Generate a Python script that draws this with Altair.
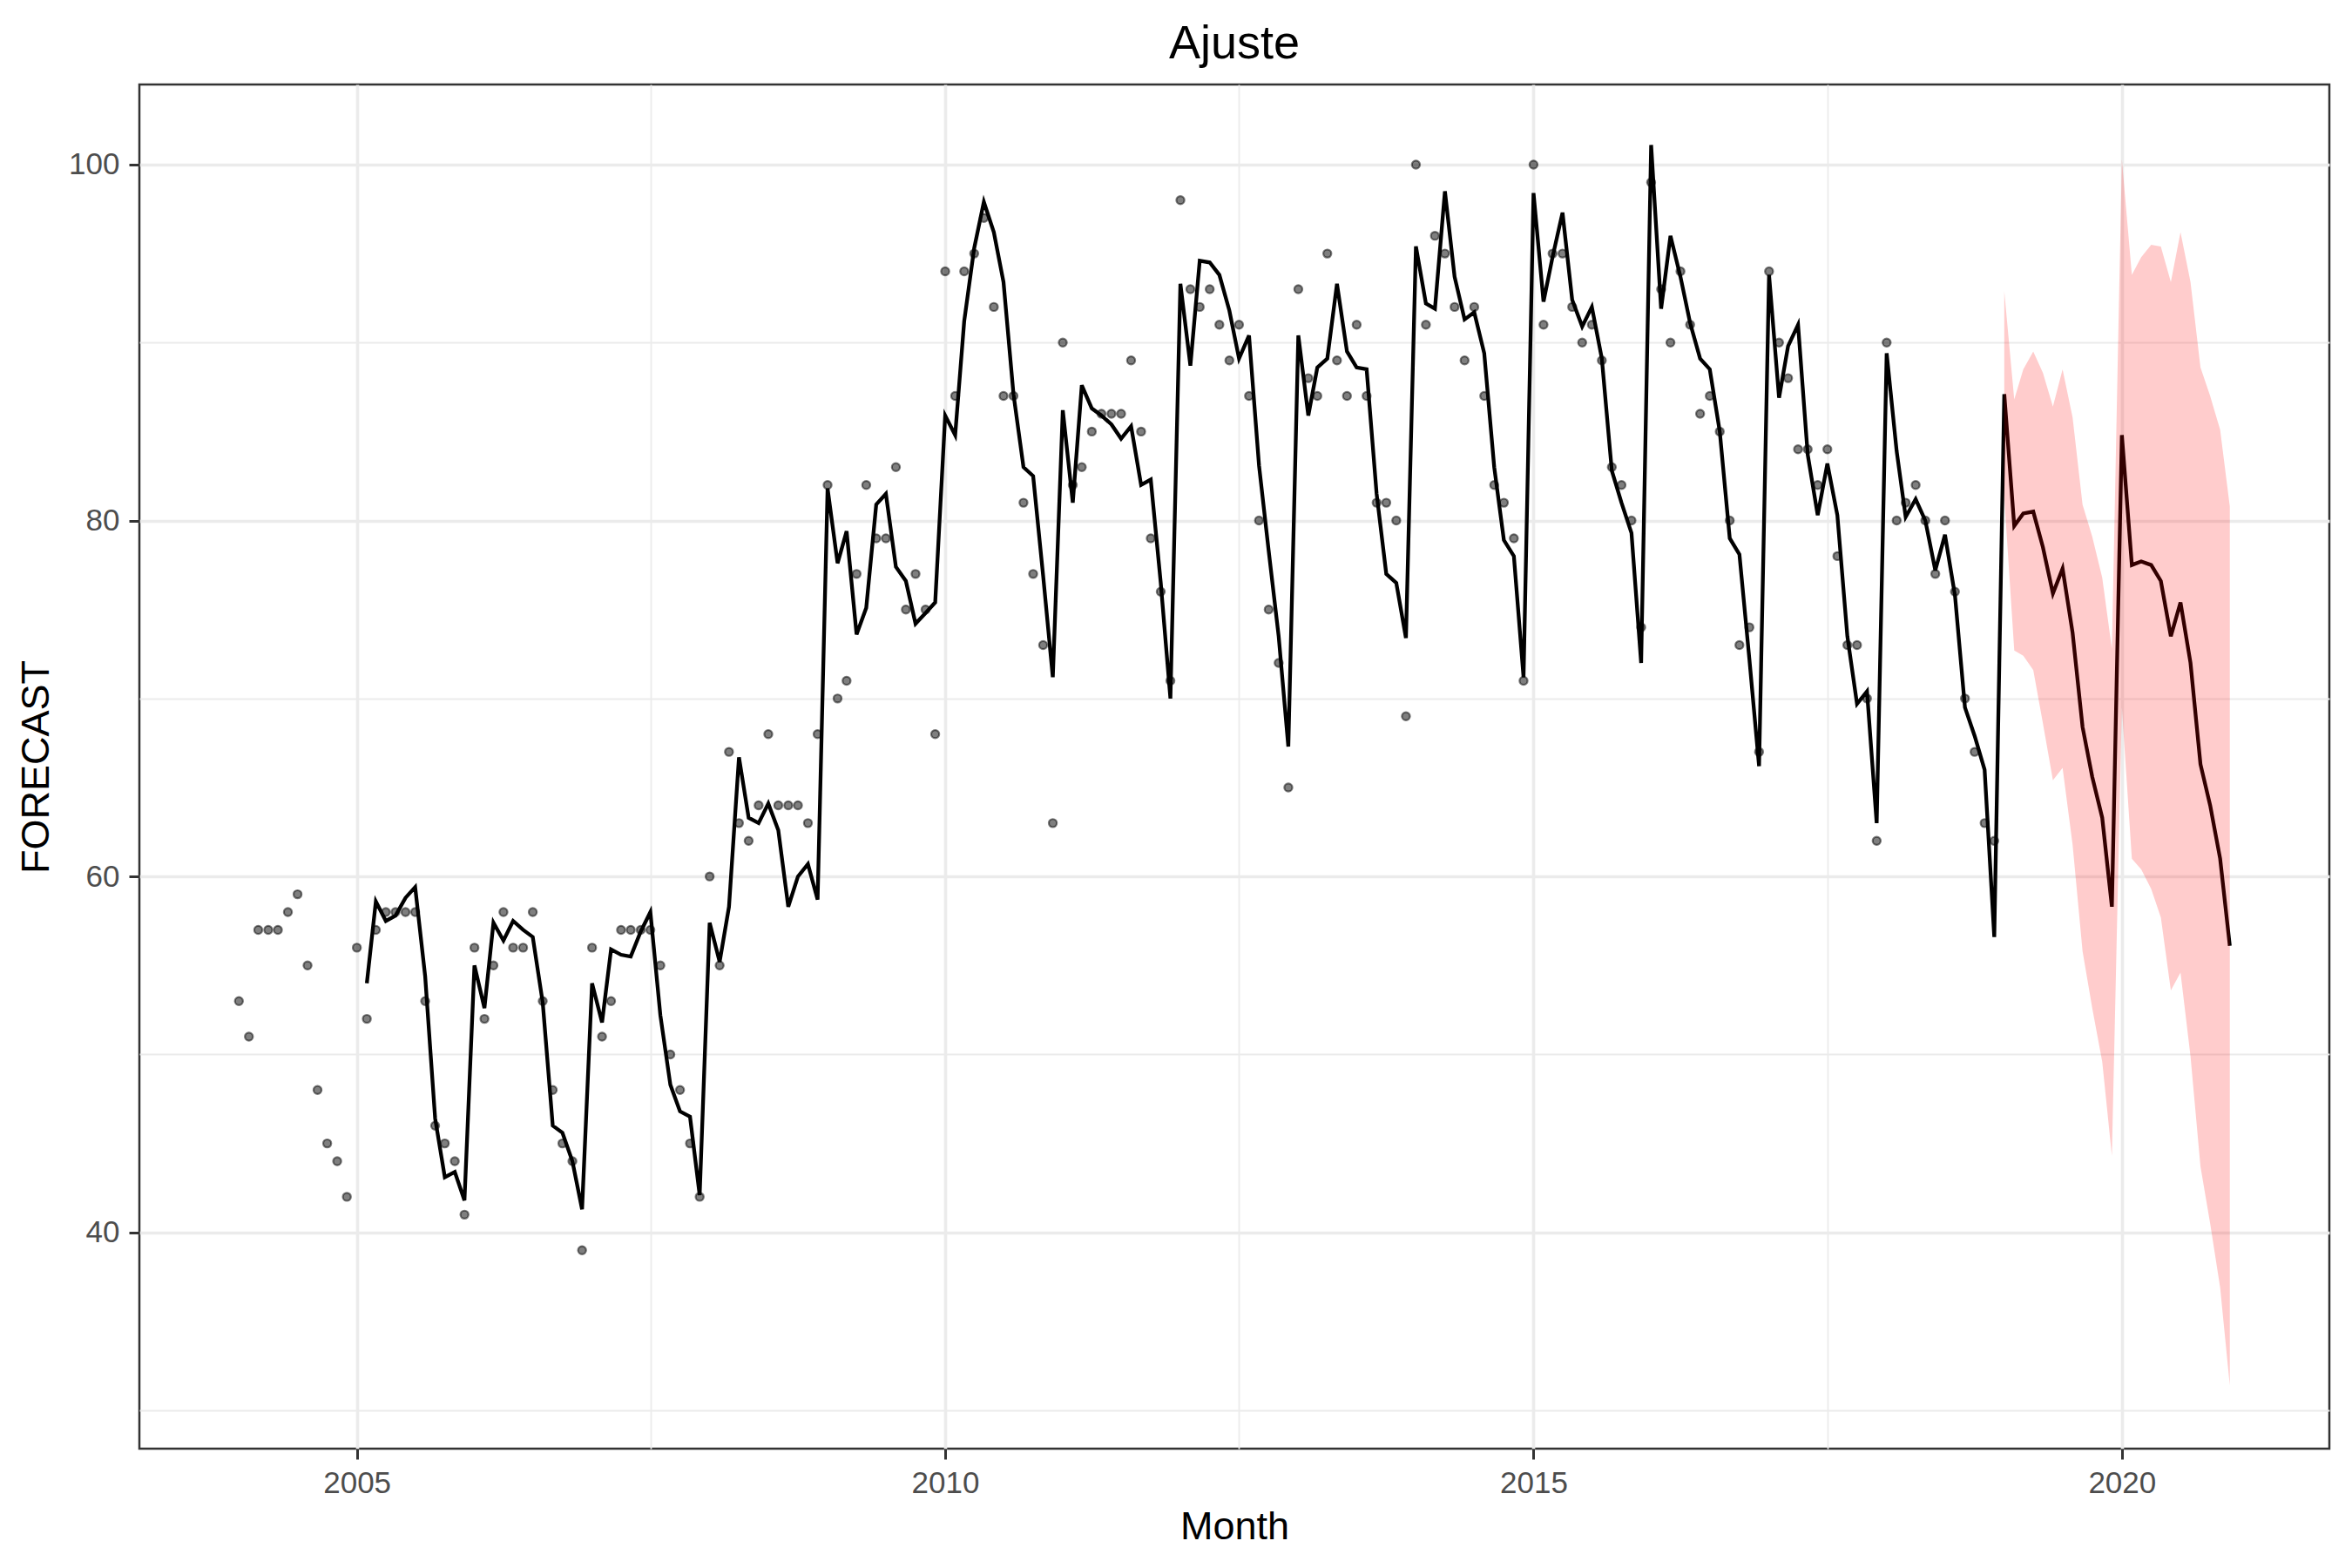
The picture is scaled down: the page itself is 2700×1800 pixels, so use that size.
import altair as alt
import pandas as pd

FONT = "Liberation Sans"

# ---- data ----
obs_start = "2004-01-01"
observed = [
    53, 51, 57, 57, 57, 58, 59, 55, 48, 45, 44, 42,
    56, 52, 57, 58, 58, 58, 58, 53, 46, 45, 44, 41,
    56, 52, 55, 58, 56, 56, 58, 53, 48, 45, 44, 39,
    56, 51, 53, 57, 57, 57, 57, 55, 50, 48, 45, 42,
    60, 55, 67, 63, 62, 64, 68, 64, 64, 64, 63, 68,
    82, 70, 71, 77, 82, 79, 79, 83, 75, 77, 75, 68,
    94, 87, 94, 95, 97, 92, 87, 87, 81, 77, 73, 63,
    90, 82, 83, 85, 86, 86, 86, 89, 85, 79, 76, 71,
    98, 93, 92, 93, 91, 89, 91, 87, 80, 75, 72, 65,
    93, 88, 87, 95, 89, 87, 91, 87, 81, 81, 80, 69,
    100, 91, 96, 95, 92, 89, 92, 87, 82, 81, 79, 71,
    100, 91, 95, 95, 92, 90, 91, 89, 83, 82, 80, 74,
    99, 93, 90, 94, 91, 86, 87, 85, 80, 73, 74, 67,
    94, 90, 88, 84, 84, 82, 84, 78, 73, 73, 70, 62,
    90, 80, 81, 82, 80, 77, 80, 76, 70, 67, 63, 62,
]

fit_start = "2005-02-01"
fitted = [
    54.0, 58.6, 57.5, 57.8, 58.8, 59.4, 54.4, 46.4, 43.1, 43.4, 41.8,
    55.0, 52.6, 57.4, 56.4, 57.5, 57.0, 56.6, 52.9, 46.0, 45.6, 44.0, 41.3,
    54.0, 51.8, 55.9, 55.6, 55.5, 56.9, 58.0, 52.2, 48.3, 46.8, 46.5, 42.1,
    57.4, 55.2, 58.3, 66.7, 63.3, 63.0, 64.1, 62.6, 58.3, 60.0, 60.7, 58.7,
    81.8, 77.6, 79.4, 73.6, 75.1, 80.9, 81.5, 77.4, 76.6, 74.2, 74.8, 75.4,
    85.9, 84.8, 91.2, 95.3, 97.9, 96.2, 93.4, 87.1, 83.0, 82.5, 76.9, 71.2,
    86.2, 81.0, 87.6, 86.3, 85.9, 85.4, 84.6, 85.3, 82.0, 82.3, 76.5, 70.0,
    93.3, 88.7, 94.6, 94.5, 93.8, 91.8, 89.1, 90.4, 83.1, 78.3, 73.5, 67.3,
    90.4, 85.9, 88.6, 89.1, 93.3, 89.5, 88.6, 88.5, 81.5, 77.0, 76.5, 73.4,
    95.4, 92.2, 91.9, 98.5, 93.7, 91.3, 91.7, 89.4, 83.0, 78.9, 78.0, 71.2,
    98.4, 92.3, 94.8, 97.3, 92.4, 90.9, 92.0, 89.1, 82.8, 81.0, 79.3, 72.0,
    101.1, 91.9, 96.0, 93.7, 91.1, 89.1, 88.5, 85.0, 79.0, 78.1, 72.2, 66.2,
    93.8, 86.9, 89.8, 91.0, 83.7, 80.3, 83.2, 80.3, 73.5, 69.7, 70.4, 63.0,
    89.4, 83.9, 80.2, 81.2, 80.0, 77.2, 79.2, 75.8, 69.5, 67.9, 66.0, 56.6,
]

fc_start = "2019-01-01"
forecast = [
    87.1, 79.7, 80.4, 80.5, 78.5, 75.9, 77.3, 73.7, 68.4, 65.6, 63.3, 58.3,
    84.8, 77.5, 77.7, 77.5, 76.6, 73.5, 75.4, 72.0, 66.3, 64.0, 61.0, 56.1,
]
upper = [
    92.9, 86.8, 88.5, 89.5, 88.3, 86.4, 88.5, 85.8, 80.9, 79.1, 76.8, 72.8,
    100.3, 93.8, 94.8, 95.5, 95.4, 93.4, 96.2, 93.4, 88.6, 87.0, 85.1, 80.8,
]
lower = [
    81.3, 72.7, 72.4, 71.6, 68.6, 65.4, 66.1, 61.8, 55.8, 52.6, 49.6, 44.3,
    69.5, 61.0, 60.4, 59.3, 57.7, 53.6, 54.6, 49.9, 43.7, 40.5, 36.9, 31.4,
]


def months(start, n):
    return [d.strftime("%Y-%m-%dT00:00:00") for d in pd.date_range(start, periods=n, freq="MS")]


obs_df = pd.DataFrame({"Month": months(obs_start, len(observed)), "FORECAST": observed})
line_df = pd.DataFrame({
    "Month": months(fit_start, len(fitted)) + months(fc_start, len(forecast)),
    "FORECAST": fitted + forecast,
})
band_df = pd.DataFrame({"Month": months(fc_start, len(forecast)), "lo": lower, "hi": upper})

# ---- scales (ggplot-like 5% expansion) ----
t0 = pd.Timestamp(obs_start)
t1 = pd.Timestamp(months(fc_start, len(forecast))[-1])
span = t1 - t0
lo_t = t0 - span * 0.05
hi_t = t1 + span * 0.05


def dt(t):
    return alt.DateTime(year=t.year, month=t.month, date=t.day, hours=t.hour, minutes=t.minute)


x_vals = [alt.DateTime(year=y, month=m, date=1) for (y, m) in
          [(2005, 1), (2007, 7), (2010, 1), (2012, 7), (2015, 1), (2017, 7), (2020, 1)]]
y_vals = [30, 40, 50, 60, 70, 80, 90, 100]

x_scale = alt.Scale(domain=[dt(lo_t), dt(hi_t)], nice=False)
y_scale = alt.Scale(domain=[27.85, 104.5], nice=False, zero=False)

x_axis = alt.Axis(
    title="Month", values=x_vals,
    labelExpr="month(datum.value) == 0 ? timeFormat(datum.value, '%Y') : ''",
    grid=True, gridColor="#EBEBEB",
    gridWidth={"condition": {"test": "month(datum.value) == 0", "value": 3.6}, "value": 1.8},
    tickOpacity={"condition": {"test": "month(datum.value) == 0", "value": 1}, "value": 0},
    tickColor="#333333", tickWidth=3, tickSize=12,
    labelFont=FONT, labelFontSize=35, labelColor="#4D4D4D", labelPadding=10,
    titleFont=FONT, titleFontSize=45, titleFontWeight="normal", titleColor="black",
    titlePadding=10, domain=False, labelFlush=False, labelOverlap=False,
)
y_axis = alt.Axis(
    title="FORECAST", values=y_vals,
    labelExpr="datum.value % 20 == 0 ? datum.label : ''",
    grid=True, gridColor="#EBEBEB",
    gridWidth={"condition": {"test": "datum.value % 20 == 0", "value": 3.6}, "value": 1.8},
    tickOpacity={"condition": {"test": "datum.value % 20 == 0", "value": 1}, "value": 0},
    tickColor="#333333", tickWidth=3, tickSize=12,
    labelFont=FONT, labelFontSize=35, labelColor="#4D4D4D", labelPadding=11,
    titleFont=FONT, titleFontSize=45, titleFontWeight="normal", titleColor="black",
    titlePadding=14, domain=False, labelFlush=False, labelOverlap=False,
)

points = alt.Chart(obs_df).mark_point(
    filled=False, shape="circle", size=85, fill="black", fillOpacity=0.5,
    stroke="black", strokeOpacity=0.5, strokeWidth=2.2,
).encode(
    x=alt.X("Month:T", scale=x_scale, axis=x_axis),
    y=alt.Y("FORECAST:Q", scale=y_scale, axis=y_axis),
)

line = alt.Chart(line_df).mark_line(color="black", strokeWidth=4.3).encode(
    x=alt.X("Month:T", scale=x_scale),
    y=alt.Y("FORECAST:Q", scale=y_scale),
)

band = alt.Chart(band_df).mark_area(color="red", opacity=0.2).encode(
    x=alt.X("Month:T", scale=x_scale),
    y=alt.Y("lo:Q", scale=y_scale),
    y2=alt.Y2("hi:Q"),
)

chart = alt.layer(points, line, band).properties(
    width=2514, height=1566,
    title=alt.TitleParams(
        text="Ajuste", font=FONT, fontSize=54, fontWeight="normal", color="black",
        anchor="middle", baseline="alphabetic", offset=34, dy=58,
    ),
    autosize=alt.AutoSizeParams(type="none"),
    padding={"left": 152, "top": 89, "right": 10, "bottom": 120},
    background="white",
).configure_view(stroke="#333333", strokeWidth=2.5)

chart.save("out.html", embed_options={"renderer": "svg", "actions": False})
